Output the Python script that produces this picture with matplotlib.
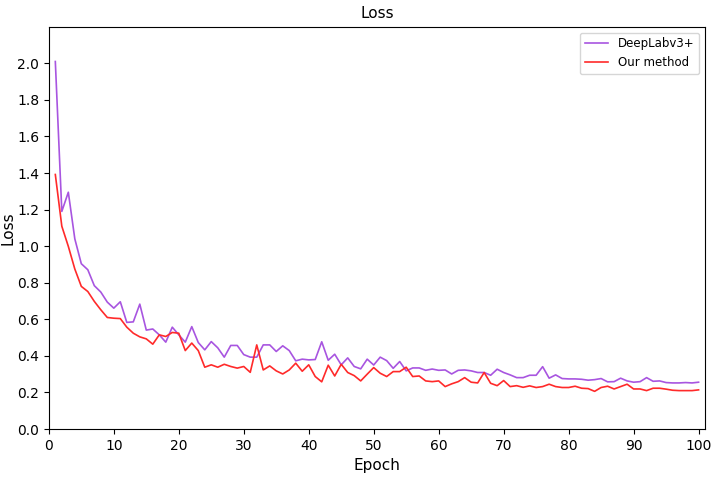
import numpy as np
import matplotlib
matplotlib.use('Agg')
import matplotlib.pyplot as plt

epochs = np.arange(1, 101)

deeplab = [2.01, 1.19, 1.295, 1.04, 0.904, 0.871, 0.784, 0.749, 0.694, 0.661,
           0.696, 0.583, 0.586, 0.683, 0.541, 0.547, 0.515, 0.475, 0.557, 0.515,
           0.475, 0.560, 0.473, 0.433, 0.478, 0.444, 0.393, 0.457, 0.457, 0.407,
           0.393, 0.393, 0.460, 0.460, 0.424, 0.455, 0.429, 0.373, 0.382, 0.378,
           0.380, 0.477, 0.376, 0.409, 0.351, 0.389, 0.342, 0.329, 0.382, 0.350,
           0.393, 0.374, 0.332, 0.369, 0.318, 0.334, 0.334, 0.321, 0.328, 0.321,
           0.323, 0.301, 0.321, 0.323, 0.318, 0.309, 0.309, 0.294, 0.327, 0.309,
           0.296, 0.281, 0.281, 0.294, 0.294, 0.341, 0.278, 0.296, 0.276, 0.274,
           0.274, 0.272, 0.267, 0.270, 0.276, 0.258, 0.259, 0.278, 0.263, 0.256,
           0.259, 0.281, 0.261, 0.263, 0.254, 0.252, 0.252, 0.254, 0.252, 0.256]

ours = [1.392, 1.109, 0.999, 0.875, 0.780, 0.752, 0.698, 0.652, 0.610, 0.606,
        0.604, 0.557, 0.524, 0.504, 0.493, 0.464, 0.515, 0.506, 0.528, 0.524,
        0.429, 0.470, 0.429, 0.338, 0.351, 0.338, 0.354, 0.342, 0.333, 0.342,
        0.310, 0.460, 0.323, 0.345, 0.318, 0.301, 0.323, 0.360, 0.316, 0.351,
        0.287, 0.258, 0.349, 0.290, 0.354, 0.309, 0.292, 0.263, 0.300, 0.336,
        0.305, 0.287, 0.314, 0.314, 0.338, 0.287, 0.290, 0.263, 0.259, 0.263,
        0.232, 0.247, 0.259, 0.281, 0.256, 0.252, 0.309, 0.250, 0.237, 0.265,
        0.232, 0.237, 0.228, 0.236, 0.227, 0.232, 0.245, 0.232, 0.227, 0.227,
        0.234, 0.223, 0.221, 0.206, 0.227, 0.234, 0.219, 0.232, 0.245, 0.219,
        0.219, 0.210, 0.223, 0.223, 0.218, 0.212, 0.210, 0.210, 0.210, 0.214]

fig = plt.figure(figsize=(7.18, 4.78), dpi=100)
ax = fig.add_axes([0.068, 0.1025, 0.914, 0.8415])

ax.plot(epochs, deeplab, color='#a855e0', lw=1.2, label='DeepLabv3+')
ax.plot(epochs, ours, color='#ff2a2a', lw=1.2, label='Our method')

ax.set_xlim(0, 101)
ax.set_ylim(0, 2.2)
ax.set_xticks(np.arange(0, 101, 10))
ax.set_yticks(np.arange(0, 2.01, 0.2))
ax.tick_params(labelsize=10)

ax.set_title('Loss', fontsize=11)
ax.set_xlabel('Epoch', fontsize=11)
ax.set_ylabel('Loss', fontsize=11, labelpad=1)
ax.legend(loc='upper right', fontsize=8.5)

plt.savefig('out.png', dpi=100)
